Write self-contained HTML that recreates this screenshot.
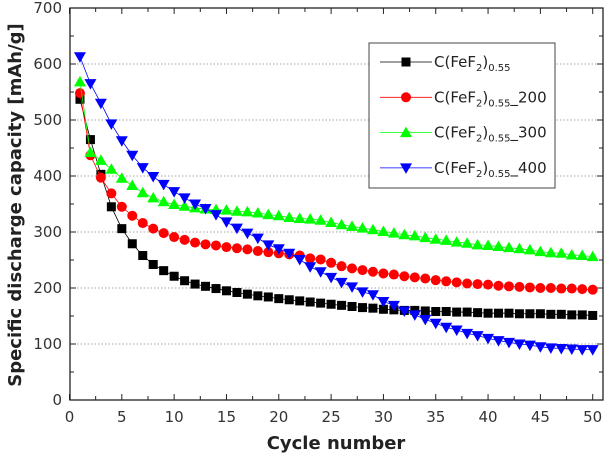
<!DOCTYPE html>
<html><head><meta charset="utf-8"><style>
body{margin:0;background:#fff}
svg{display:block;font-family:"DejaVu Sans","Liberation Sans",sans-serif}
</style></head><body>
<svg id="chart" width="605" height="456" viewBox="0 0 605 456" xmlns="http://www.w3.org/2000/svg"></svg>
<script>
const cycles = Array.from({length:50},(_, i)=>i+1);
const seriesBlack = [537,465,403,345,306,279,258,242,231,221,213,207,203,199,195,192,189,186,184,181,179,177,175,173,171,169,167,165,164,162,161,160,160,159,158,158,157,157,156,155,155,155,154,154,154,153,153,152,152,151];
const seriesRed = [548,437,397,369,345,329,316,306,298,291,286,281,278,276,273,271,269,266,264,262,260,258,253,251,245,239,235,232,229,226,224,221,219,217,214,212,210,208,207,206,204,203,202,201,200,200,199,199,198,197];
const seriesGreen = [568,442,428,412,396,383,370,361,354,349,346,343,341,340,339,337,336,334,331,329,326,324,323,321,317,313,310,307,304,301,298,295,293,290,287,285,282,280,277,276,274,272,270,268,265,263,262,259,258,256];
const seriesBlue = [613,565,530,493,463,437,415,399,385,372,361,350,342,331,318,307,298,289,277,270,262,251,238,229,219,210,202,193,188,176,169,159,152,144,137,130,125,119,115,110,106,103,100,98,95,93,92,91,90,90];
const xTicks = [0,5,10,15,20,25,30,35,40,45,50];
const yTicks = [0,100,200,300,400,500,600,700];
const legendLabels = ["C(FeF","C(FeF","C(FeF","C(FeF"];
const legendSuffix = ["","_200","_300","_400"];

const L=70,R=603,T=8,B=400;
const X=v=>69.5+v*(592.7-69.5)/50;
const Y=v=>B-v*(B-T)/700;
const svg=document.getElementById('chart');
const NS='http://www.w3.org/2000/svg';
function mk(tag,attrs,parent){const e=document.createElementNS(NS,tag);for(const k in attrs)e.setAttribute(k,attrs[k]);(parent||svg).appendChild(e);return e;}

yTicks.forEach(v=>{if(v>0&&v<700){const g=mk('line',{x1:L,x2:R,y1:Y(v),y2:Y(v),stroke:'#888','stroke-width':0.8,'stroke-dasharray':'1.5,2'});

}});

const fr=mk('rect',{x:L,y:T,width:R-L,height:B-T,fill:'none',stroke:'#222','stroke-width':1.3});



for(let v=0;v<=700;v+=50){const len=v%100===0?6:4;
 mk('line',{x1:L,x2:L+len,y1:Y(v),y2:Y(v),stroke:'#222'});
 mk('line',{x1:R,x2:R-len,y1:Y(v),y2:Y(v),stroke:'#222'});}
for(let v=0;v<=51;v+=2.5){const len=v%5===0?6:4;
 mk('line',{x1:X(v),x2:X(v),y1:B,y2:B-len,stroke:'#222'});
 mk('line',{x1:X(v),x2:X(v),y1:T,y2:T+len,stroke:'#222'});}
yTicks.forEach(v=>{const t=mk('text',{x:L-8,y:Y(v)+5,'text-anchor':'end','font-size':15,fill:'#333'});t.textContent=v;

});
xTicks.forEach(v=>{const t=mk('text',{x:X(v),y:B+22,'text-anchor':'middle','font-size':15,fill:'#333'});t.textContent=v;

});

const xt=mk('text',{x:336,y:449,'text-anchor':'middle','font-size':18,'font-weight':'bold',fill:'#222'});xt.textContent='Cycle number';


const yt=mk('text',{x:0,y:0,'text-anchor':'middle','font-size':18,'font-weight':'bold',fill:'#222',transform:'translate(21,205) rotate(-90)'});yt.textContent='Specific discharge capacity [mAh/g]';



function marker(type,x,y,color,g){
 if(type==='sq')mk('rect',{x:x-4.5,y:y-4.5,width:9,height:9,fill:color},g);
 else if(type==='ci')mk('circle',{cx:x,cy:y,r:5,fill:color},g);
 else if(type==='up')mk('polygon',{points:`${x},${y-6} ${x-6},${y+4.5} ${x+6},${y+4.5}`,fill:color},g);
 else mk('polygon',{points:`${x},${y+6} ${x-6},${y-4.5} ${x+6},${y-4.5}`,fill:color},g);
}
const series=[[seriesBlack,'#000','sq','series-c-fef2'],[seriesRed,'#f00','ci','series-200'],[seriesGreen,'#0f0','up','series-300'],[seriesBlue,'#00f','dn','series-400']];
series.forEach(([data,color,type,name])=>{
 const g=mk('g',{});
 
 
 mk('polyline',{points:data.map((v,i)=>X(cycles[i])+','+Y(v)).join(' '),fill:'none',stroke:color,'stroke-width':0.8},g);
 data.forEach((v,i)=>marker(type,X(cycles[i]),Y(v),color,g));
});

const lg=mk('g',{});


mk('rect',{x:369,y:43,width:186,height:145,fill:'#fff',stroke:'#444','stroke-width':1},lg);
series.forEach(([d,color,type],i)=>{
 const y=62+i*35.3;
 const e=mk('g',{},lg);
 
 
 mk('line',{x1:380,x2:432,y1:y,y2:y,stroke:color,'stroke-width':0.8},e);
 marker(type,406,y,color,e);
 const t=mk('text',{x:434,y:y+5,'font-size':15,fill:'#222'},e);
 t.textContent=legendLabels[i];
 const s1=mk('tspan',{'font-size':10,dy:4},t);s1.textContent='2';
 const s2=mk('tspan',{'font-size':15,dy:-4},t);s2.textContent=')';
 const s3=mk('tspan',{'font-size':10,dy:4},t);s3.textContent='0.55';
 const s4=mk('tspan',{'font-size':15,dy:-4},t);s4.textContent=legendSuffix[i];
});
</script>
</body></html>
